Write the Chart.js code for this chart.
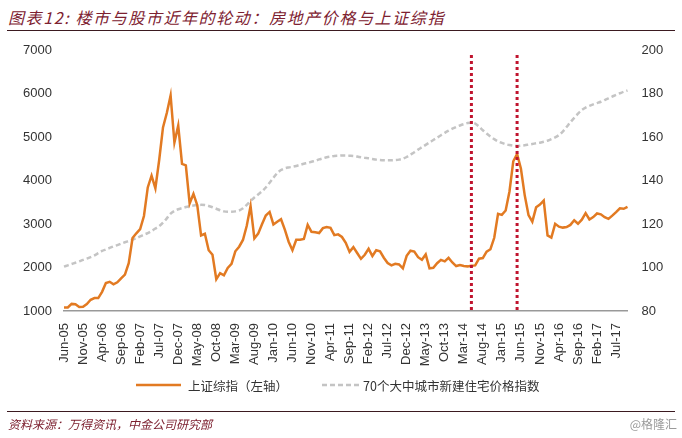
<!DOCTYPE html>
<html lang="zh">
<head>
<meta charset="UTF-8">
<title>楼市与股市近年的轮动</title>
<script src="https://cdn.jsdelivr.net/npm/chart.js"></script>
<style>
  html, body { margin: 0; padding: 0; background: #fff; }
  body { width: 682px; height: 438px; position: relative; overflow: hidden;
         font-family: "Liberation Sans", Arial, "Noto Sans CJK SC", sans-serif; }
  #chart { position: absolute; left: 0; top: 0; }
  .title { position: absolute; left: 8px; top: 5px; font-size: 16px; letter-spacing: 1.6px;
           font-style: italic; color: #7d2130; font-family: "Noto Sans CJK SC", sans-serif; white-space: nowrap; }
  .rule { position: absolute; left: 7px; width: 668px; height: 0; border-top: 1.5px solid #3b1a20; }
  .legend { position: absolute; top: 376px; font-size: 12.5px; color: #333; white-space: nowrap;
            font-family: "Noto Sans CJK SC", sans-serif; }
  .source { position: absolute; left: 8px; top: 415px; font-size: 12px; font-style: italic; color: #7d2130;
            font-family: "Noto Sans CJK SC", sans-serif; }
  .mark { position: absolute; right: 5px; top: 415px; font-size: 12px; color: #9a9a9a;
          font-family: "Noto Sans CJK SC", sans-serif; }
</style>
</head>
<body>
<div class="title">图表12: 楼市与股市近年的轮动：房地产价格与上证综指</div>
<div class="rule" style="top:30px"></div>

<canvas id="chart" width="682" height="438"></canvas>

<svg width="682" height="438" style="position:absolute;left:0;top:0" >
  <line x1="136" y1="385" x2="181" y2="385" stroke="#e27a22" stroke-width="2.5"/>
  <line x1="322" y1="385" x2="361" y2="385" stroke="#c4c4c4" stroke-width="2.5" stroke-dasharray="5 3"/>
</svg>
<div class="legend" style="left:188px">上证综指（左轴）</div>
<div class="legend" style="left:363px">70个大中城市新建住宅价格指数</div>

<div class="rule" style="top:411px"></div>
<div class="source">资料来源：万得资讯，中金公司研究部</div>
<div class="mark">@格隆汇</div>

<script>
// months Jun-05 .. Oct-17
const months = [];
const monNames = ['Jan','Feb','Mar','Apr','May','Jun','Jul','Aug','Sep','Oct','Nov','Dec'];
for (let y = 2005, m = 5; y < 2017 || (y === 2017 && m <= 9); m++) {
    if (m === 12) { m = 0; y++; }
    months.push(monNames[m] + '-' + String(y).slice(2));
}

// 上证综指 month-end (left axis)
const sse = [
    1081, 1083, 1163, 1156, 1093, 1099, 1161,
    1258, 1299, 1298, 1440, 1641, 1672, 1613, 1659, 1752, 1838, 2099, 2676,
    2786, 2881, 3184, 3841, 4110, 3821, 4471, 5219, 5552, 5955, 4872, 5262,
    4383, 4349, 3473, 3693, 3433, 2736, 2776, 2397, 2294, 1729, 1871, 1821,
    1991, 2083, 2373, 2478, 2633, 2959, 3412, 2668, 2779, 2996, 3195, 3277,
    2989, 3052, 3109, 2871, 2592, 2398, 2638, 2639, 2656, 2979, 2820, 2808,
    2791, 2905, 2928, 2912, 2744, 2762, 2702, 2567, 2359, 2468, 2333, 2199,
    2293, 2429, 2263, 2396, 2372, 2225, 2104, 2048, 2086, 2069, 1980, 2269,
    2385, 2366, 2237, 2178, 2301, 1979, 1994, 2098, 2175, 2142, 2221, 2116,
    2033, 2056, 2033, 2026, 2039, 2048, 2202, 2217, 2364, 2420, 2683, 3235,
    3210, 3310, 3748, 4442, 4612, 4277, 3664, 3206, 3053, 3383, 3445, 3539,
    2738, 2688, 3004, 2938, 2917, 2930, 2979, 3086, 3005, 3100, 3250, 3104,
    3159, 3242, 3223, 3155, 3117, 3192, 3273, 3361, 3349, 3393
];

// 70个大中城市新建住宅价格指数 (right axis)
const house = [
    100.4, 101.0, 101.6, 102.2, 102.8, 103.5, 104.1,
    104.8, 105.6, 106.6, 107.6, 108.3, 109.0, 109.7, 110.3, 111.0, 111.6, 112.2, 112.8,
    113.5, 114.3, 115.1, 115.8, 116.8, 117.9, 119.0, 120.6, 122.6, 124.8, 126.0, 126.8,
    127.3, 127.8, 128.2, 128.5, 128.7, 128.8, 128.7, 128.3, 127.7, 127.0, 126.3, 125.8,
    125.6, 125.6, 125.8, 126.2, 127.2, 128.8, 130.6, 132.2, 133.6, 135.0, 136.8, 139.0,
    141.2, 143.4, 144.8, 145.6, 146.0, 146.3, 146.7, 147.2, 147.7, 148.1, 148.6, 149.1,
    149.7, 150.2, 150.7, 151.0, 151.3, 151.4, 151.5, 151.5, 151.4, 151.3, 151.0, 150.7,
    150.4, 150.2, 149.9, 149.6, 149.4, 149.3, 149.3, 149.3, 149.4, 149.6, 150.0, 150.8,
    151.9, 153.0, 154.2, 155.3, 156.4, 157.5, 158.6, 159.7, 160.8, 161.9, 162.9, 163.8,
    164.6, 165.3, 165.9, 166.4, 166.6, 166.2, 164.8, 163.1, 161.6, 160.2, 159.0, 158.0,
    157.3, 156.7, 156.3, 156.0, 155.9, 156.0, 156.2, 156.5, 156.8, 157.1, 157.4, 157.8,
    158.3, 159.0, 159.8, 160.9, 162.5, 164.6, 166.8, 168.8, 170.7, 172.4, 173.5, 174.3,
    175.0, 175.6, 176.2, 177.0, 177.8, 178.6, 179.4, 180.1, 180.8, 181.4
];

// red dotted markers
const markerMonths = ['May-14', 'May-15'];

const markerLines = {
    id: 'markerLines',
    afterDatasetsDraw(chart) {
        const { ctx, chartArea, scales } = chart;
        ctx.save();
        ctx.strokeStyle = '#c0142e';
        ctx.lineWidth = 3;
        ctx.setLineDash([3, 3]);
        markerMonths.forEach(m => {
            const x = scales.x.getPixelForValue(months.indexOf(m));
            ctx.beginPath();
            ctx.moveTo(x, chartArea.top + 5);
            ctx.lineTo(x, chartArea.bottom);
            ctx.stroke();
        });
        ctx.restore();
    }
};

const tickFont = { size: 13, family: '"Liberation Sans", Arial' };

new Chart(document.getElementById('chart'), {
    type: 'line',
    data: {
        labels: months,
        datasets: [
            {
                label: '70个大中城市新建住宅价格指数',
                data: house,
                yAxisID: 'y1',
                borderColor: '#c4c4c4',
                borderWidth: 2.5,
                borderDash: [5, 3],
                pointRadius: 0,
                tension: 0.3,
                order: 2
            },
            {
                label: '上证综指（左轴）',
                data: sse,
                yAxisID: 'y',
                borderColor: '#e27a22',
                borderWidth: 2.5,
                pointRadius: 0,
                tension: 0,
                order: 1
            }
        ]
    },
    options: {
        responsive: false,
        animation: false,
        devicePixelRatio: 1,
        layout: { padding: { top: 50, left: 0, right: 0, bottom: 0 } },
        plugins: { legend: { display: false }, tooltip: { enabled: false } },
        scales: {
            x: {
                grid: { display: false },
                border: { display: true, color: '#999', width: 1.5 },
                ticks: {
                    autoSkip: false,
                    minRotation: 90,
                    maxRotation: 90,
                    padding: 4,
                    color: '#333',
                    font: tickFont,
                    callback: (v, i) => i % 5 === 0 ? months[i] : ''
                },
                afterFit(s) { s.height = 127; }
            },
            y: {
                position: 'left',
                min: 1000, max: 7000,
                grid: { display: false, drawTicks: false },
                border: { display: false },
                ticks: { stepSize: 1000, padding: 12, color: '#333', font: tickFont,
                         callback: v => String(v) },
                afterFit(s) { s.width = 64; }
            },
            y1: {
                position: 'right',
                min: 80, max: 200,
                grid: { display: false, drawTicks: false },
                border: { display: false },
                ticks: { stepSize: 20, padding: 14, color: '#333', font: tickFont,
                         callback: v => String(v) },
                afterFit(s) { s.width = 54.5; }
            }
        }
    },
    plugins: [markerLines]
});
</script>
</body>
</html>
